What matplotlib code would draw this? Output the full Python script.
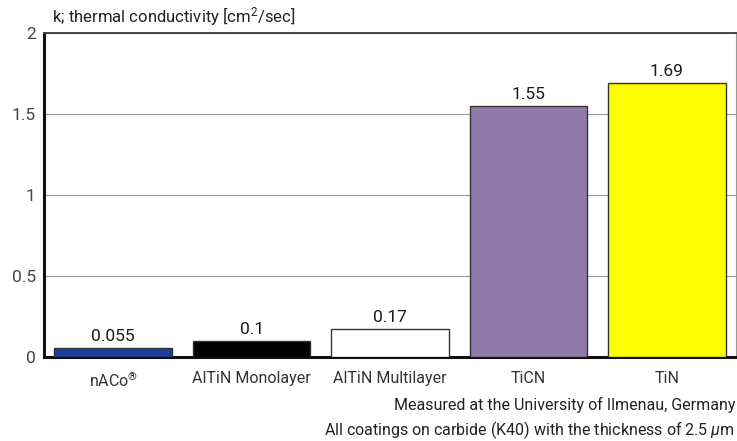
import matplotlib
matplotlib.use("Agg")
import matplotlib.pyplot as plt

categories = ["nACo$^{\\circledR}$", "AlTiN Monolayer", "AlTiN Multilayer", "TiCN", "TiN"]
values = [0.055, 0.1, 0.17, 1.55, 1.69]
value_labels = ["0.055", "0.1", "0.17", "1.55", "1.69"]
colors = ["#1c3f9c", "#000000", "#ffffff", "#8f7aa8", "#ffff00"]
yticks = [0, 0.5, 1, 1.5, 2]
ytick_labels = ["0", "0.5", "1", "1.5", "2"]

plt.rcParams["font.family"] = ["Roboto", "DejaVu Sans"]
plt.rcParams["mathtext.fontset"] = "custom"
plt.rcParams["mathtext.rm"] = "Roboto"
plt.rcParams["mathtext.it"] = "Roboto:italic"

fig = plt.figure(figsize=(7.37, 4.41), dpi=100)
ax = fig.add_axes([44 / 737, 1 - 357 / 441, 692 / 737, 324 / 441])

x = range(len(categories))
ax.bar(x, values, width=0.85, color=colors, edgecolor="#333333", linewidth=1.0, zorder=3)

for xi, v, lab in zip(x, values, value_labels):
    ax.text(xi, v + 0.025, lab, ha="center", va="bottom", fontsize=12.5, color="#1a1a1a")

ax.set_xlim(-0.5, 4.5)
ax.set_ylim(0, 2)
ax.set_yticks(yticks)
ax.set_yticklabels(ytick_labels, fontsize=12.5, color="#444444")
ax.set_xticks(list(x))
ax.set_xticklabels(categories, fontsize=11.5, color="#333333")
ax.tick_params(axis="y", length=0, pad=6)
ax.tick_params(axis="x", length=0, pad=10)

ax.yaxis.grid(True, color="#999999", linewidth=0.8, zorder=0)
ax.set_axisbelow(True)

ax.spines["left"].set_linewidth(2.2)
ax.spines["left"].set_color("#111111")
ax.spines["bottom"].set_linewidth(2.2)
ax.spines["bottom"].set_color("#111111")
ax.spines["top"].set_linewidth(1.4)
ax.spines["top"].set_color("#444444")
ax.spines["right"].set_linewidth(0.8)
ax.spines["right"].set_color("#999999")

fig.text(52 / 737, 1 - 17 / 441, "k; thermal conductivity [cm$^{2}$/sec]",
         fontsize=12, color="#222222", va="center", ha="left")
fig.text(735 / 737, 1 - 405 / 441, "Measured at the University of Ilmenau, Germany",
         fontsize=11.5, color="#222222", va="center", ha="right")
fig.text(735 / 737, 1 - 430 / 441, "All coatings on carbide (K40) with the thickness of 2.5 $\\mu$m",
         fontsize=11.5, color="#222222", va="center", ha="right")

fig.savefig("out.png", dpi=100)
